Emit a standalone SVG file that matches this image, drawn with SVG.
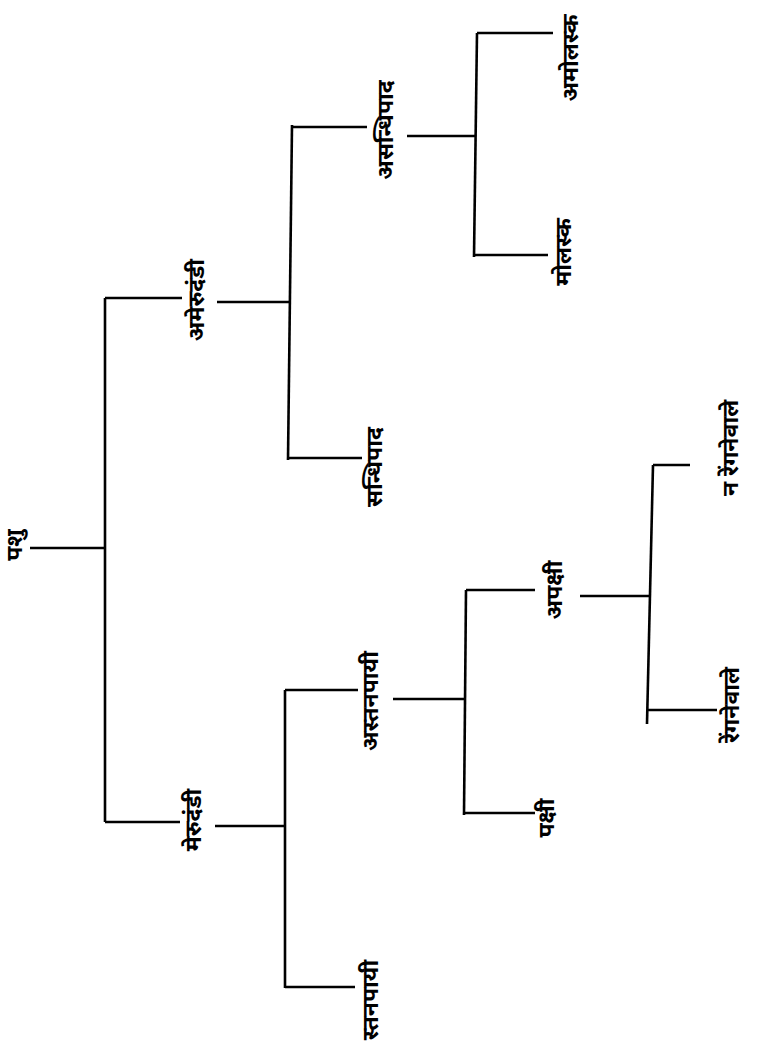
<svg xmlns="http://www.w3.org/2000/svg" width="760" height="1050" viewBox="0 0 760 1050">
<style>
.l{stroke:#000;stroke-width:2.6;fill:none;stroke-linecap:butt}
.t{font-family:"Noto Sans Devanagari","Noto Sans","Lohit Devanagari","Noto Sans CJK SC",sans-serif;font-size:23px;font-weight:bold;fill:#000;text-anchor:middle;dominant-baseline:central}
</style>
<rect width="760" height="1050" fill="#fff"/>
<g id="connectors">
<path class="l" d="M30,548H105"/>
<path class="l" d="M105,298V822"/>
<path class="l" d="M105,298H182"/>
<path class="l" d="M105,822H180"/>
<path class="l" d="M217,302H290"/>
<path class="l" d="M292,125L288,460"/>
<path class="l" d="M292,127H367"/>
<path class="l" d="M288,458H362"/>
<path class="l" d="M407,136H475"/>
<path class="l" d="M477,33L474,257"/>
<path class="l" d="M477,33H553"/>
<path class="l" d="M474,255H548"/>
<path class="l" d="M215,826H285"/>
<path class="l" d="M285,690V988"/>
<path class="l" d="M285,690H358"/>
<path class="l" d="M285,987H355"/>
<path class="l" d="M393,699H465"/>
<path class="l" d="M466,590L464,815"/>
<path class="l" d="M466,590H535"/>
<path class="l" d="M464,813H535"/>
<path class="l" d="M580,596H650"/>
<path class="l" d="M653,465L647,724"/>
<path class="l" d="M653,465H690"/>
<path class="l" d="M648,710H717"/>
</g>
<g id="n-pashu"><text class="t" transform="translate(16,545) rotate(-90)">पशु</text></g>
<g id="n-amerudandi"><text class="t" transform="translate(198,300) rotate(-90)">अमेरुदंडी</text></g>
<g id="n-merudandi"><text class="t" transform="translate(195,820) rotate(-90)">मेरुदंडी</text></g>
<g id="n-asandhipad"><text class="t" transform="translate(387,130) rotate(-90)">असन्धिपाद</text></g>
<g id="n-sandhipad"><text class="t" transform="translate(376,467) rotate(-90)">सन्धिपाद</text></g>
<g id="n-amolask"><text class="t" transform="translate(572,58) rotate(-90)">अमोलस्क</text></g>
<g id="n-molask"><text class="t" transform="translate(565,252) rotate(-90)">मोलस्क</text></g>
<g id="n-astanpayi"><text class="t" transform="translate(372,701) rotate(-90)">अस्तनपायी</text></g>
<g id="n-stanpayi"><text class="t" transform="translate(372,1000) rotate(-90)">स्तनपायी</text></g>
<g id="n-apakshi"><text class="t" transform="translate(556,590) rotate(-90)">अपक्षी</text></g>
<g id="n-pakshi"><text class="t" transform="translate(548,818) rotate(-90)">पक्षी</text></g>
<g id="n-nrenganewale"><text class="t" transform="translate(732,448) rotate(-90)">न रेंगनेवाले</text></g>
<g id="n-renganewale"><text class="t" transform="translate(733,705) rotate(-90)">रेंगनेवाले</text></g>
</svg>
